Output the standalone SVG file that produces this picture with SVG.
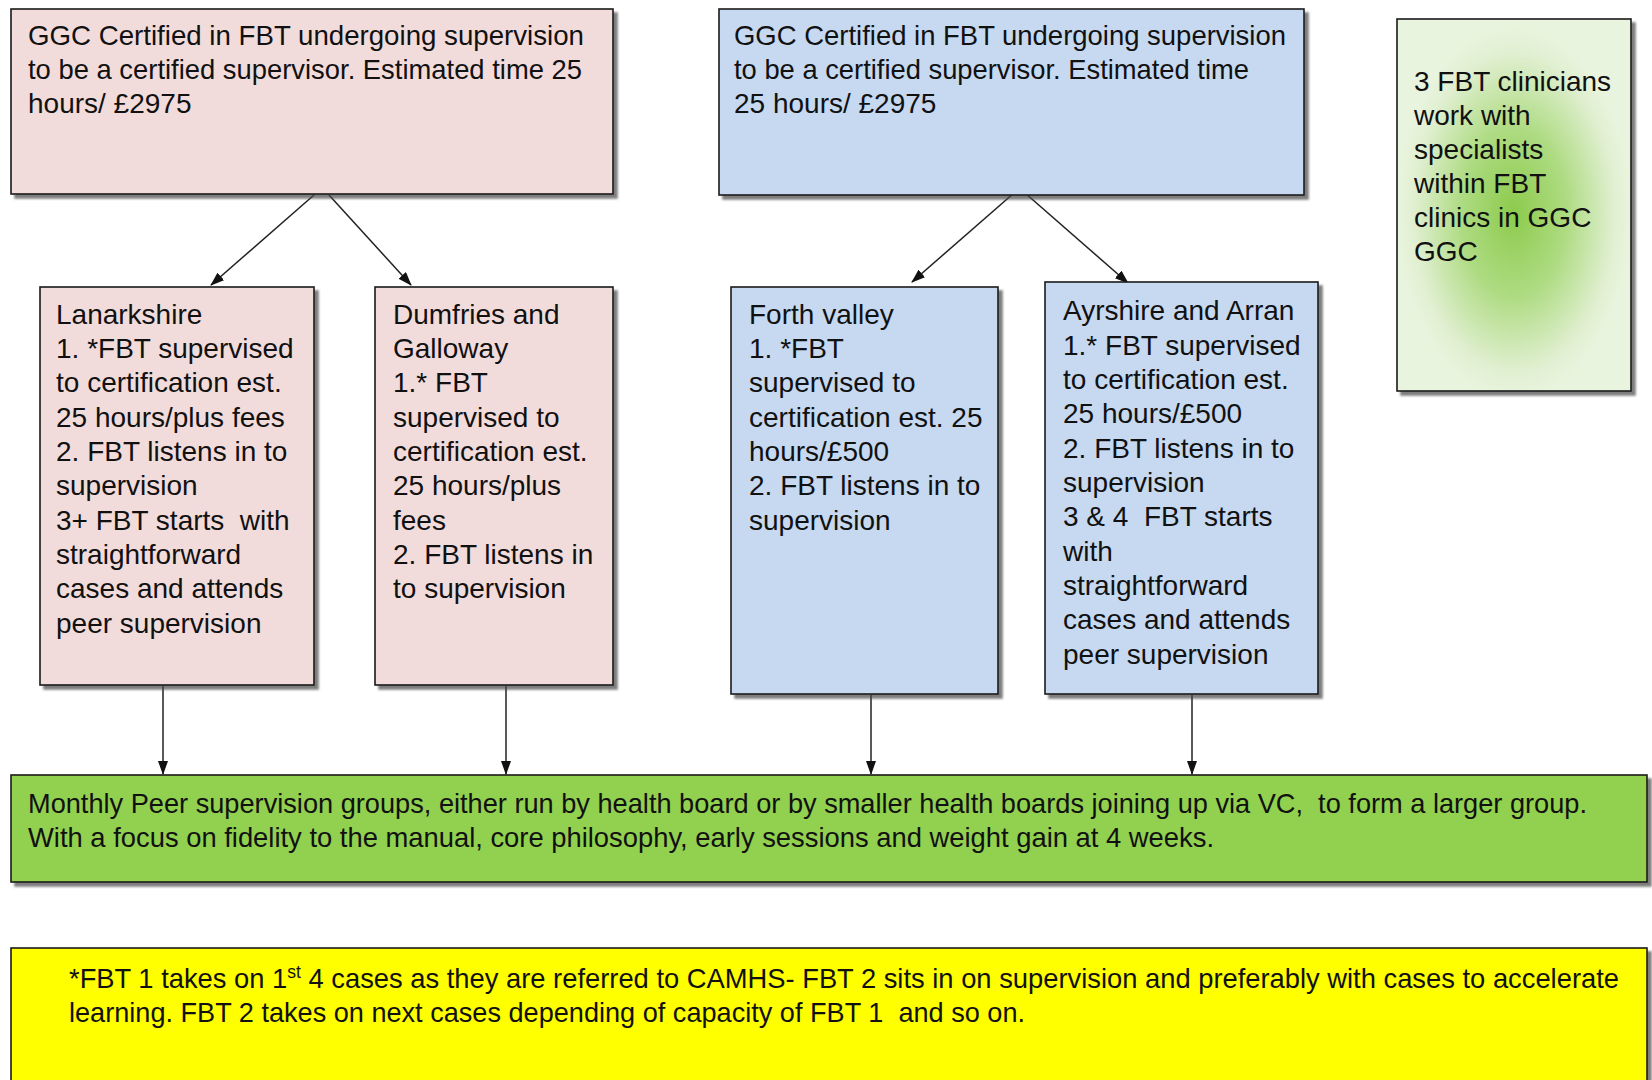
<svg xmlns="http://www.w3.org/2000/svg" width="1652" height="1080" viewBox="0 0 1652 1080">
<style>
.box{stroke:#1a1a1a;stroke-width:1.6;filter:url(#sh)}
.pink{fill:#f2dcdb}
.blue{fill:#c6d9f1}
.green{fill:#92d050}
.yellow{fill:#ffff00}
.t{font-family:"Liberation Sans",Arial,sans-serif;font-size:28px;fill:#111}
.c{stroke:#222;stroke-width:1.5;fill:none;marker-end:url(#ah)}
</style>
<defs>
<filter id="sh" x="-5%" y="-5%" width="115%" height="115%">
<feDropShadow dx="4" dy="4" stdDeviation="1.2" flood-color="#444" flood-opacity="0.7"/>
</filter>
<radialGradient id="rg" cx="0.5" cy="0.52" r="0.5">
<stop offset="0" stop-color="#8ccb4c"/>
<stop offset="0.45" stop-color="#aedb82"/>
<stop offset="0.85" stop-color="#e0efd0"/>
<stop offset="1" stop-color="#e9f4de"/>
</radialGradient>
<marker id="ah" markerWidth="14" markerHeight="10" refX="13" refY="5" orient="auto" markerUnits="userSpaceOnUse">
<path d="M0,0 L14,5 L0,10 Z" fill="#111"/>
</marker>
</defs>
<rect width="1652" height="1080" fill="#fff"/>

<g id="connectors">
<line class="c" x1="314" y1="195" x2="211" y2="285"/>
<line class="c" x1="329" y1="195" x2="411" y2="285"/>
<line class="c" x1="1014" y1="193" x2="912" y2="282"/>
<line class="c" x1="1025" y1="193" x2="1128" y2="283"/>
<line class="c" x1="163" y1="686" x2="163" y2="774"/>
<line class="c" x1="506" y1="686" x2="506" y2="774"/>
<line class="c" x1="871" y1="695" x2="871" y2="774"/>
<line class="c" x1="1192" y1="695" x2="1192" y2="774"/>
</g>

<g id="ggc-pink">
<rect class="box pink" x="11" y="9" width="602" height="185"/>
<text class="t" x="28" y="45" textLength="556" lengthAdjust="spacingAndGlyphs">GGC Certified in FBT undergoing supervision</text>
<text class="t" x="28" y="79" textLength="554" lengthAdjust="spacingAndGlyphs">to be a certified supervisor. Estimated time 25</text>
<text class="t" x="28" y="113">hours/ £2975</text>
</g>

<g id="ggc-blue">
<rect class="box blue" x="719" y="9" width="585" height="186"/>
<text class="t" x="734" y="45" textLength="552" lengthAdjust="spacingAndGlyphs">GGC Certified in FBT undergoing supervision</text>
<text class="t" x="734" y="79" textLength="515" lengthAdjust="spacingAndGlyphs">to be a certified supervisor. Estimated time</text>
<text class="t" x="734" y="113">25 hours/ £2975</text>
</g>

<g id="ggc-clinicians">
<rect class="box" x="1397" y="19" width="234" height="372" fill="url(#rg)"/>
<text class="t"><tspan x="1414" y="91">3 FBT clinicians</tspan><tspan x="1414" y="125">work with</tspan><tspan x="1414" y="159">specialists</tspan><tspan x="1414" y="193">within FBT</tspan><tspan x="1414" y="227">clinics in GGC</tspan><tspan x="1414" y="261">GGC</tspan></text>
</g>

<g id="lanarkshire">
<rect class="box pink" x="40" y="287" width="274" height="398"/>
<text class="t"><tspan x="56" y="323.5">Lanarkshire</tspan><tspan x="56" y="357.8">1. *FBT supervised</tspan><tspan x="56" y="392.2">to certification est.</tspan><tspan x="56" y="426.5">25 hours/plus fees</tspan><tspan x="56" y="460.9">2. FBT listens in to</tspan><tspan x="56" y="495.2">supervision</tspan><tspan x="56" y="529.6">3+ FBT starts&#160; with</tspan><tspan x="56" y="563.9">straightforward</tspan><tspan x="56" y="598.3">cases and attends</tspan><tspan x="56" y="632.6">peer supervision</tspan></text>
</g>

<g id="dumfries">
<rect class="box pink" x="375" y="287" width="238" height="398"/>
<text class="t"><tspan x="393" y="323.5">Dumfries and</tspan><tspan x="393" y="357.8">Galloway</tspan><tspan x="393" y="392.2">1.* FBT</tspan><tspan x="393" y="426.5">supervised to</tspan><tspan x="393" y="460.9">certification est.</tspan><tspan x="393" y="495.2">25 hours/plus</tspan><tspan x="393" y="529.6">fees</tspan><tspan x="393" y="563.9">2. FBT listens in</tspan><tspan x="393" y="598.3">to supervision</tspan></text>
</g>

<g id="forth-valley">
<rect class="box blue" x="731" y="287" width="267" height="407"/>
<text class="t"><tspan x="749" y="323.5">Forth valley</tspan><tspan x="749" y="357.8">1. *FBT</tspan><tspan x="749" y="392.2">supervised to</tspan><tspan x="749" y="426.5">certification est. 25</tspan><tspan x="749" y="460.9">hours/£500</tspan><tspan x="749" y="495.2">2. FBT listens in to</tspan><tspan x="749" y="529.6">supervision</tspan></text>
</g>

<g id="ayrshire">
<rect class="box blue" x="1045" y="282" width="273" height="412"/>
<text class="t"><tspan x="1063" y="320.3">Ayrshire and Arran</tspan><tspan x="1063" y="354.6">1.* FBT supervised</tspan><tspan x="1063" y="389">to certification est.</tspan><tspan x="1063" y="423.3">25 hours/£500</tspan><tspan x="1063" y="457.7">2. FBT listens in to</tspan><tspan x="1063" y="492">supervision</tspan><tspan x="1063" y="526.4">3 &amp; 4&#160; FBT starts</tspan><tspan x="1063" y="560.7">with</tspan><tspan x="1063" y="595.1">straightforward</tspan><tspan x="1063" y="629.4">cases and attends</tspan><tspan x="1063" y="663.8">peer supervision</tspan></text>
</g>

<g id="peer-groups">
<rect class="box green" x="11" y="775" width="1636" height="107"/>
<text class="t" x="28" y="813" textLength="1559" lengthAdjust="spacingAndGlyphs">Monthly Peer supervision groups, either run by health board or by smaller health boards joining up via VC,&#160; to form a larger group.</text>
<text class="t" x="28" y="847" textLength="1186" lengthAdjust="spacingAndGlyphs">With a focus on fidelity to the manual, core philosophy, early sessions and weight gain at 4 weeks.</text>
</g>

<g id="note">
<rect class="box yellow" x="11" y="948" width="1636" height="150"/>
<text class="t" x="69" y="988" textLength="1550" lengthAdjust="spacingAndGlyphs">*FBT 1 takes on 1<tspan font-size="18" baseline-shift="10">st</tspan> 4 cases as they are referred to CAMHS- FBT 2 sits in on supervision and preferably with cases to accelerate</text>
<text class="t" x="69" y="1022" textLength="956" lengthAdjust="spacingAndGlyphs">learning. FBT 2 takes on next cases depending of capacity of FBT 1&#160; and so on.</text>
</g>
</svg>
